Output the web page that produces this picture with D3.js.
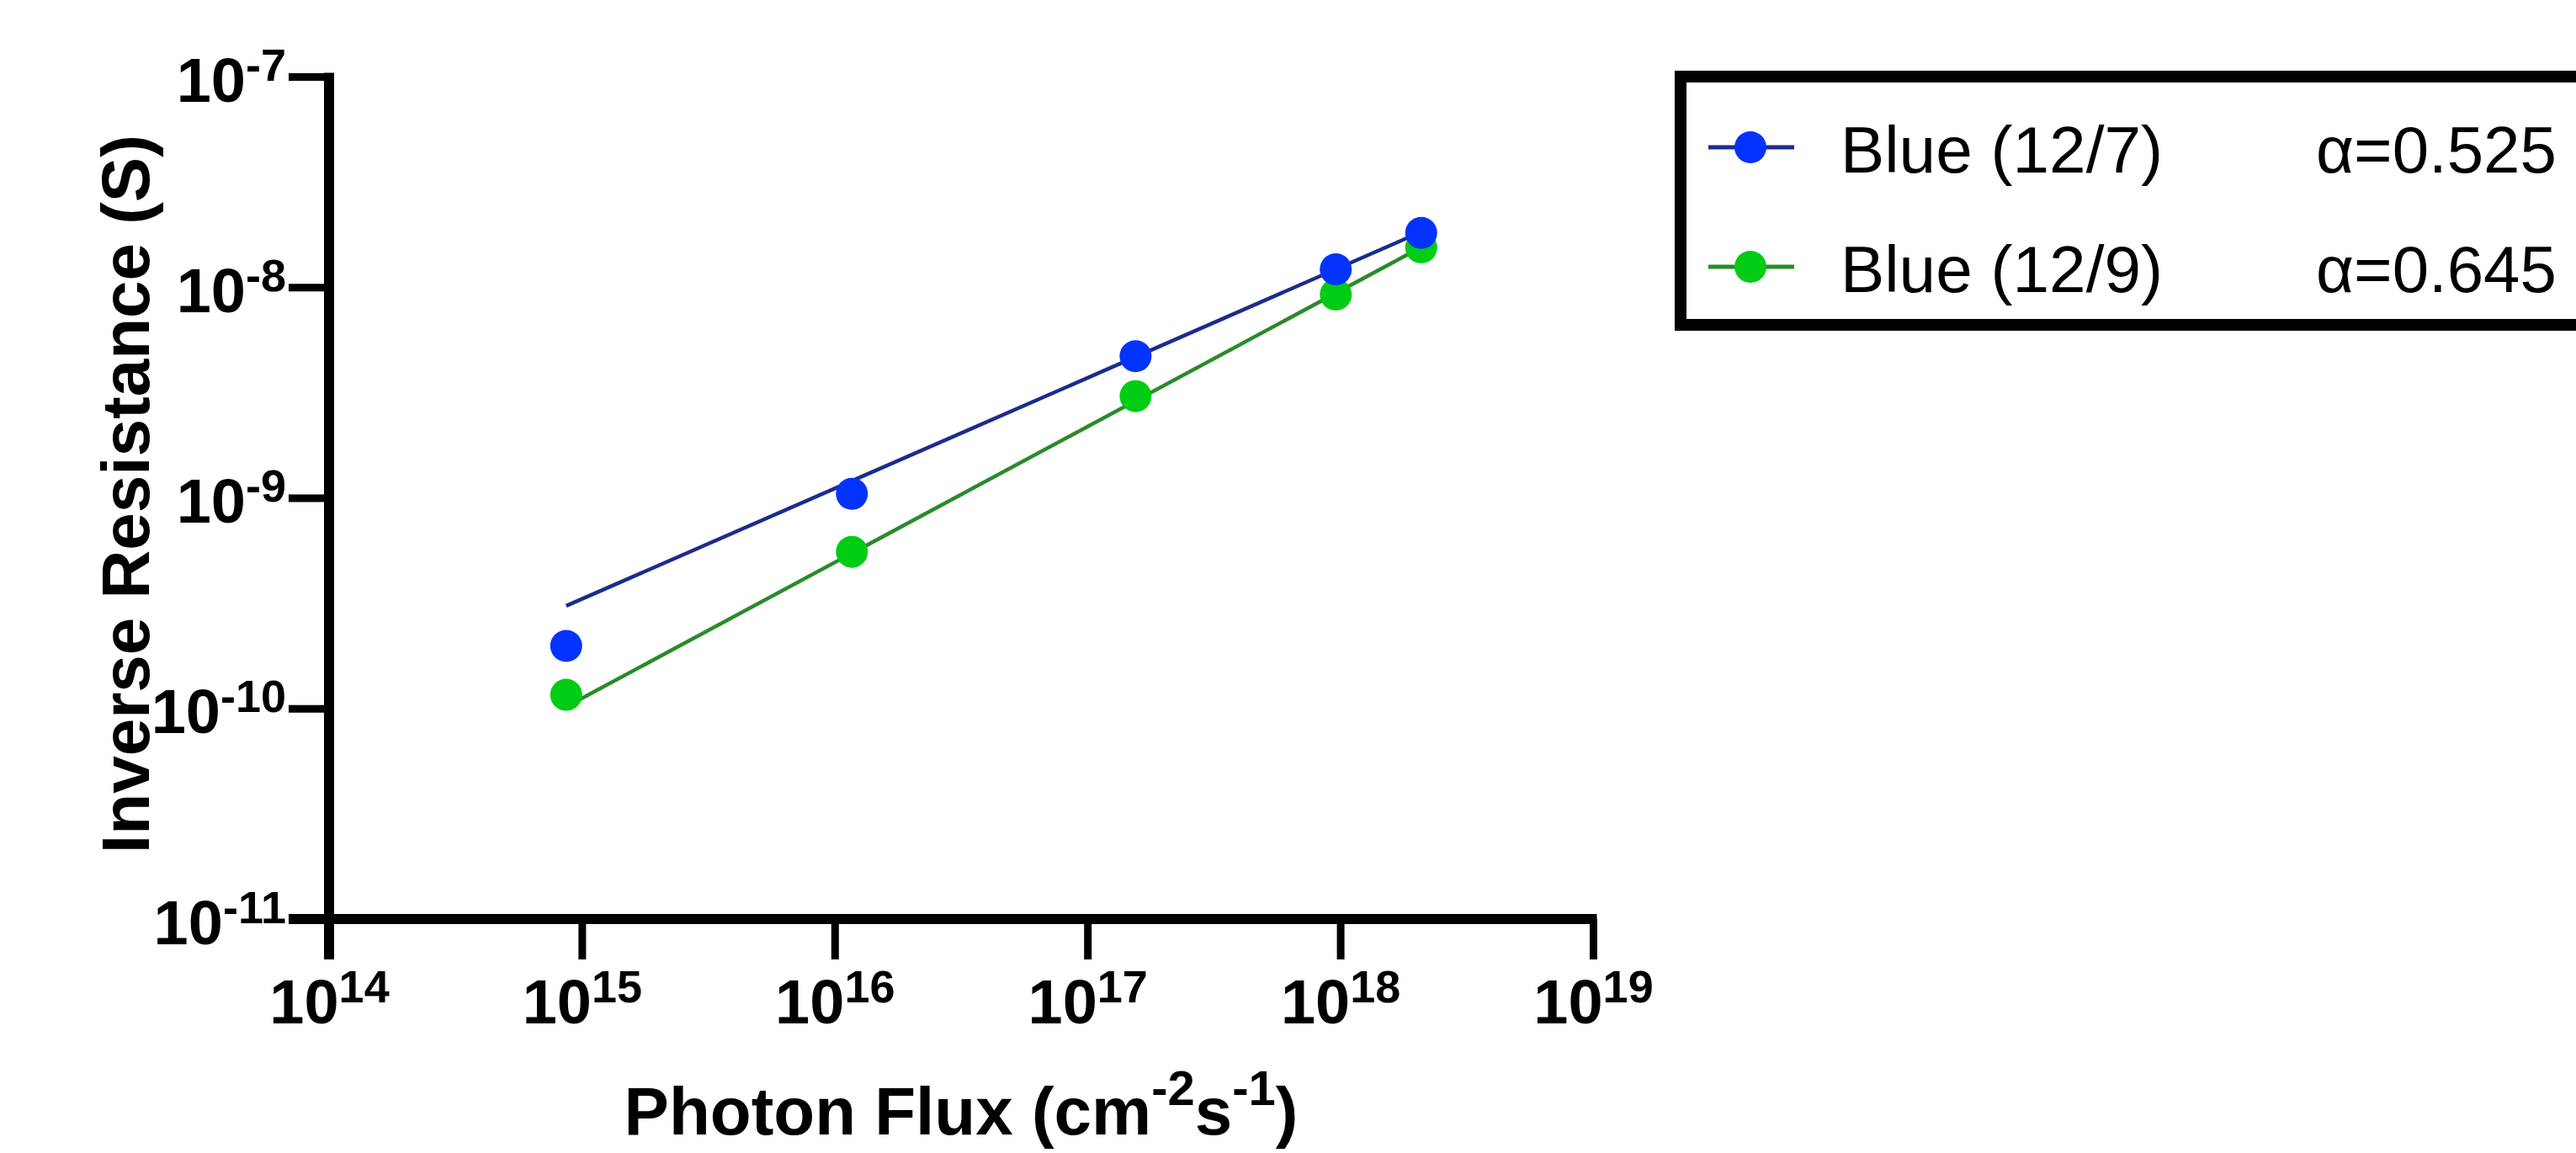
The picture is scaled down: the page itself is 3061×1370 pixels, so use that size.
<!DOCTYPE html>
<html>
<head>
<meta charset="utf-8">
<script src="https://cdn.jsdelivr.net/npm/d3@7"></script>
<style>
  html, body { margin: 0; padding: 0; background: #fff; }
  svg { display: block; font-family: "Liberation Sans", Arial, Helvetica, sans-serif; }
</style>
</head>
<body>
<svg id="chart"></svg>
<script>
// photon flux values (cm^-2 s^-1), shared by both runs
var flux = [8.67e14, 1.17e16, 1.55e17, 9.6e17, 2.09e18];
// inverse resistance (S)
var blue127 = [1.98e-10, 1.045e-9, 4.70e-9, 1.216e-8, 1.81e-8];
var blue129 = [1.16e-10, 5.54e-10, 3.04e-9, 9.23e-9, 1.545e-8];
var seriesNames = ["Blue (12/7)", "Blue (12/9)"];
// power-law fits  G = coef * flux^alpha
var alphas = [0.525, 0.645];
var fitCoef = [4.41e-18, 2.36e-20];
var xTicks = [1e14, 1e15, 1e16, 1e17, 1e18, 1e19];
var yTicks = [1e-11, 1e-10, 1e-9, 1e-8, 1e-7];

var width = 3061, height = 1370;
var pointColors = ["#0433ff", "#00cc14"];
var lineColors = ["#1c2c8c", "#2b8a2b"];
var tickLen = 48, axisW = 12, tickW = 9, r = 19;

var svg = d3.select("#chart").attr("width", width).attr("height", height);

var x = d3.scaleLog().domain([1e14, 1e19]).range([391, 1893]);
var y = d3.scaleLog().domain([1e-11, 1e-7]).range([1092, 91]);

var series = [blue127, blue129].map(function(vals, i) {
  return {
    name: seriesNames[i],
    alpha: alphas[i],
    coef: fitCoef[i],
    points: vals.map(function(v, j) { return [flux[j], v]; })
  };
});

function expo(v) { return Math.round(Math.log10(v)); }

// y axis
var gy = svg.append("g").attr("transform", "translate(" + x(1e14) + ",0)")
  .call(d3.axisLeft(y).tickValues(yTicks).tickSize(tickLen).tickPadding(3).tickFormat(""));
gy.select(".domain").remove();
gy.selectAll(".tick line").attr("stroke", "#000").attr("stroke-width", tickW);
gy.selectAll(".tick text")
  .attr("y", 29).attr("dy", 0)
  .attr("font-weight", "bold").attr("fill", "#000")
  .each(function(d) {
    var t = d3.select(this);
    t.append("tspan").attr("font-size", 74).text("10");
    t.append("tspan").attr("font-size", 54).attr("dy", -25).text(expo(d));
  });

// x axis
var gx = svg.append("g").attr("transform", "translate(0," + y(1e-11) + ")")
  .call(d3.axisBottom(x).tickValues(xTicks).tickSize(tickLen).tickFormat(""));
gx.select(".domain").remove();
gx.selectAll(".tick line").attr("stroke", "#000").attr("stroke-width", tickW);
gx.selectAll(".tick text")
  .attr("y", 124).attr("dy", 0)
  .attr("font-weight", "bold").attr("fill", "#000")
  .each(function(d) {
    var t = d3.select(this);
    t.append("tspan").attr("font-size", 74).text("10");
    t.append("tspan").attr("font-size", 54).attr("dy", -25).text(expo(d));
  });

// axis lines (they cross and run out by one tick length)
svg.append("line")
  .attr("x1", x(1e14)).attr("x2", x(1e14))
  .attr("y1", y(1e-7) - tickW / 2).attr("y2", y(1e-11) + tickLen)
  .attr("stroke", "#000").attr("stroke-width", axisW);
svg.append("line")
  .attr("x1", x(1e14) - tickLen).attr("x2", x(1e19) + tickW / 2)
  .attr("y1", y(1e-11)).attr("y2", y(1e-11))
  .attr("stroke", "#000").attr("stroke-width", axisW);

// axis titles
svg.append("text")
  .attr("transform", "translate(177,587) rotate(-90)")
  .attr("text-anchor", "middle")
  .attr("font-size", 80).attr("font-weight", "bold")
  .text("Inverse Resistance (S)");

var xt = svg.append("text")
  .attr("x", 1142).attr("y", 1348)
  .attr("text-anchor", "middle")
  .attr("font-size", 80).attr("font-weight", "bold");
xt.append("tspan").text("Photon Flux (cm");
xt.append("tspan").attr("font-size", 58).attr("dy", -35).text("-2");
xt.append("tspan").attr("dy", 35).text("s");
xt.append("tspan").attr("font-size", 58).attr("dy", -35).text("-1");
xt.append("tspan").attr("dy", 35).text(")");

// fit lines
series.forEach(function(s, i) {
  var x0 = d3.min(flux), x1 = d3.max(flux);
  svg.append("line")
    .attr("x1", x(x0)).attr("y1", y(s.coef * Math.pow(x0, s.alpha)))
    .attr("x2", x(x1)).attr("y2", y(s.coef * Math.pow(x1, s.alpha)))
    .attr("stroke", lineColors[i]).attr("stroke-width", 4.5);
});

// points, second run first so blue sits on top
[1, 0].forEach(function(i) {
  svg.append("g").selectAll("circle")
    .data(series[i].points)
    .join("circle")
      .attr("cx", function(d) { return x(d[0]); })
      .attr("cy", function(d) { return y(d[1]); })
      .attr("r", r)
      .attr("fill", pointColors[i]);
});

// legend
var legend = svg.append("g");
legend.append("rect")
  .attr("x", 1997).attr("y", 91).attr("width", 1090).attr("height", 295)
  .attr("fill", "none").attr("stroke", "#000").attr("stroke-width", 14);

var rows = legend.selectAll("g.row")
  .data(series)
  .join("g").attr("class", "row")
  .attr("transform", function(d, i) { return "translate(0," + (205 + i * 142) + ")"; });
rows.append("line")
  .attr("x1", 2030).attr("x2", 2132).attr("y1", -30).attr("y2", -30)
  .attr("stroke", function(d, i) { return lineColors[i]; }).attr("stroke-width", 5);
rows.append("circle")
  .attr("cx", 2080).attr("cy", -30).attr("r", r)
  .attr("fill", function(d, i) { return pointColors[i]; });
rows.append("text")
  .attr("x", 2187).attr("font-size", 78)
  .attr("textLength", 383).attr("lengthAdjust", "spacingAndGlyphs")
  .text(function(d) { return d.name; });
rows.append("text")
  .attr("x", 2752).attr("font-size", 78)
  .text(function(d) { return "\u03b1=" + d.alpha.toFixed(3); });
</script>
</body>
</html>
